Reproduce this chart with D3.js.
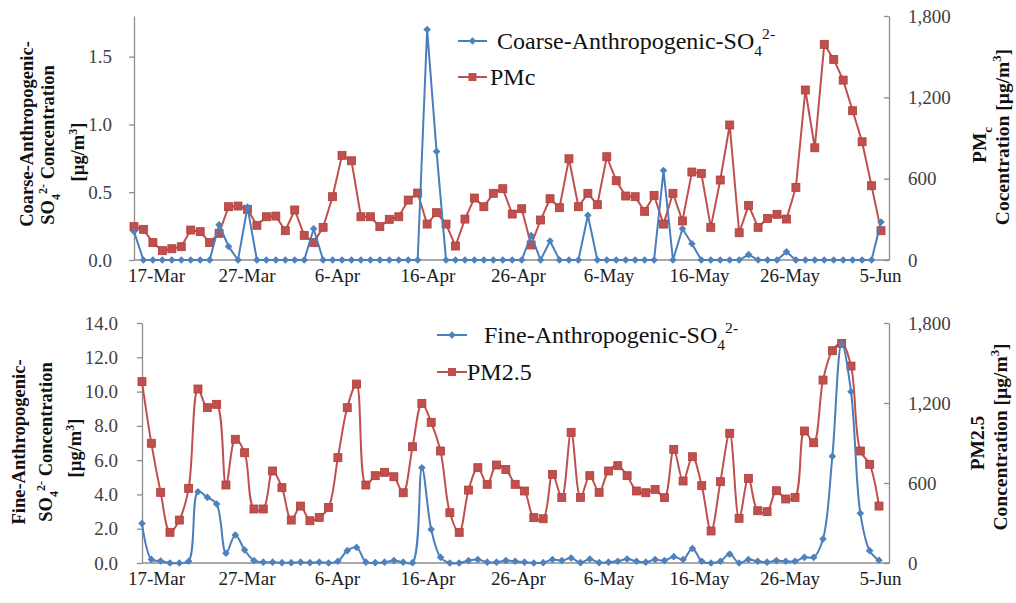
<!DOCTYPE html>
<html>
<head>
<meta charset="utf-8">
<script src="https://cdn.jsdelivr.net/npm/d3@7"></script>
<style>
  body { margin: 0; background: #fff; }
  svg text { font-family: "Liberation Serif", "Tinos", "Times New Roman", "DejaVu Serif", serif; }
</style>
</head>
<body>
<div id="chart"></div>
<script>
// date labels shown under each panel
const tickLabels = ["17-Mar", "27-Mar", "6-Apr", "16-Apr", "26-Apr", "6-May", "16-May", "26-May", "5-Jun"];

// top panel (daily values, 80 days)
const coarseSO4 = [0.21, 0, 0, 0, 0, 0, 0, 0, 0, 0.26,
  0.10, 0, 0.39, 0, 0, 0, 0, 0, 0, 0.23,
  0, 0, 0, 0, 0, 0, 0, 0, 0, 0,
  0, 1.70, 0.80, 0, 0, 0, 0, 0, 0, 0,
  0, 0, 0.18, 0, 0.14, 0, 0, 0, 0.33, 0,
  0, 0, 0, 0, 0, 0, 0.66, 0, 0.23, 0.12,
  0, 0, 0, 0, 0, 0.04, 0, 0, 0, 0.06,
  0, 0, 0, 0, 0, 0, 0, 0, 0, 0.28];
const pmc = [246, 226, 128, 69, 83, 98, 221, 209, 128, 197,
  393, 398, 374, 256, 319, 324, 216, 369, 182, 128,
  241, 467, 772, 732, 319, 319, 246, 300, 319, 442,
  494, 265, 349, 265, 103, 302, 457, 393, 492, 526,
  339, 378, 111, 295, 452, 386, 747, 393, 492, 408,
  762, 585, 472, 467, 359, 477, 265, 492, 288, 649,
  639, 241, 590, 996, 201, 403, 241, 307, 337, 302,
  536, 1254, 828, 1591, 1480, 1327, 1101, 872, 548, 216];

// bottom panel
const fineSO4 = [2.31, 0.21, 0.12, 0, 0, 0.10, 4.16, 3.83, 3.44, 0.57,
  1.63, 0.76, 0.14, 0.05, 0.05, 0.02, 0.02, 0.05, 0.02, 0.05,
  0, 0.10, 0.72, 0.91, 0.05, 0.02, 0.05, 0.14, 0.05, 0.02,
  5.56, 1.96, 0.33, 0, 0, 0.14, 0.20, 0.05, 0.05, 0.14,
  0.10, 0.05, 0, 0.02, 0.20, 0.14, 0.29, 0.02, 0.23, 0.02,
  0.05, 0.10, 0.23, 0.10, 0.05, 0.20, 0.14, 0.37, 0.20, 0.85,
  0.10, 0, 0.10, 0.52, 0, 0.20, 0.10, 0.05, 0.14, 0.10,
  0.10, 0.33, 0.33, 1.40, 6.22, 12.8, 9.99, 2.90, 0.72, 0.16];
const pm25 = [1360, 898, 530, 230, 322, 560, 1305, 1165, 1190, 585,
  928, 827, 405, 405, 690, 565, 322, 427, 317, 342,
  417, 790, 1165, 1342, 585, 655, 680, 647, 527, 872,
  1197, 1055, 840, 377, 230, 547, 715, 590, 735, 702,
  590, 540, 340, 332, 665, 492, 980, 492, 655, 530,
  690, 730, 655, 540, 527, 552, 490, 852, 615, 797,
  580, 240, 610, 973, 335, 635, 392, 385, 542, 480,
  492, 990, 902, 1372, 1592, 1647, 1477, 840, 740, 427];

const pmTicks = [0, 600, 1200, 1800];

const BLUE = "#4A7EBB", RED = "#C0504D", AXIS = "#8C8C8C", TICKTXT = "#404040";
const FONT = '"Liberation Serif", "Tinos", "Times New Roman", "DejaVu Serif", serif';

const svg = d3.select("#chart").append("svg")
  .attr("width", 1016)
  .attr("height", 603)
  .attr("font-family", FONT);

// writes a text made of parts, some of them sub- or superscript
function richText(sel, parts, size) {
  let shift = 0;
  parts.forEach(p => {
    let target = 0;
    if (p.sub) target = size * 0.3;
    if (p.sup) target = -size * 0.4;
    sel.append("tspan")
      .attr("dy", target - shift)
      .style("font-size", (p.sub || p.sup) ? size * 0.65 + "px" : size + "px")
      .text(p.t);
    shift = target;
  });
}

function drawPanel(p) {
  const g = svg.append("g");

  const x = d3.scaleLinear().domain([0, p.so4.length - 1]).range([p.firstX, p.lastX]);
  const yL = d3.scaleLinear().domain([0, p.so4Max]).range([p.bottom, p.top]);
  const yR = d3.scaleLinear().domain([0, 1800]).range([p.bottom, p.top]);
  const xl = d3.scalePoint().domain(tickLabels).range([156, 880]);

  // left axis
  const la = g.append("g").attr("transform", `translate(${p.left},0)`)
    .call(d3.axisLeft(yL).tickValues(p.so4Ticks).tickFormat(d3.format(".1f"))
      .tickSizeInner(5).tickSizeOuter(0).tickPadding(p.leftPad));
  // right axis
  const ra = g.append("g").attr("transform", `translate(${p.right},0)`)
    .call(d3.axisRight(yR).tickValues(pmTicks).tickFormat(d3.format(","))
      .tickSizeInner(-5).tickSizeOuter(0).tickPadding(19));
  [la, ra].forEach(a => {
    a.attr("font-family", FONT);
    a.select(".domain").attr("stroke", AXIS).attr("stroke-width", 1.3);
    a.selectAll(".tick line").attr("stroke", AXIS).attr("stroke-width", 1.3);
    a.selectAll(".tick text").attr("fill", TICKTXT).style("font-size", "19px");
  });

  // baseline
  g.append("line")
    .attr("x1", p.left).attr("x2", p.right)
    .attr("y1", yL(0)).attr("y2", yL(0))
    .attr("stroke", AXIS).attr("stroke-width", 1.3);

  // date labels
  const xa = g.append("g").attr("transform", `translate(0,${p.bottom})`)
    .call(d3.axisBottom(xl).tickSize(0).tickPadding(9));
  xa.attr("font-family", FONT);
  xa.select(".domain").remove();
  xa.selectAll(".tick text").attr("fill", "#202020").style("font-size", "19px");

  // series
  const lineL = d3.line().x((d, i) => x(i)).y(d => yL(d)).curve(p.curve);
  const lineR = d3.line().x((d, i) => x(i)).y(d => yR(d)).curve(p.curve);

  g.append("path").datum(p.pm)
    .attr("d", lineR).attr("fill", "none")
    .attr("stroke", RED).attr("stroke-width", 2);
  g.append("g").selectAll("rect").data(p.pm).join("rect")
    .attr("x", (d, i) => x(i) - 4).attr("y", d => yR(d) - 4)
    .attr("width", 8).attr("height", 8)
    .attr("fill", RED).attr("stroke", "#B03C39").attr("stroke-width", 0.8);

  g.append("path").datum(p.so4)
    .attr("d", lineL).attr("fill", "none")
    .attr("stroke", BLUE).attr("stroke-width", 2);
  g.append("g").selectAll("path").data(p.so4).join("path")
    .attr("transform", (d, i) => `translate(${x(i)},${yL(d)})`)
    .attr("d", "M0,-3.8L3.8,0L0,3.8L-3.8,0Z")
    .attr("fill", "#4F81BD");

  // legend
  const lg = g.append("g");
  [[p.leg1, BLUE], [p.leg2, RED]].forEach(([l, c], k) => {
    lg.append("line")
      .attr("x1", l.x1).attr("x2", l.x2).attr("y1", l.y).attr("y2", l.y)
      .attr("stroke", c).attr("stroke-width", 2);
    const mx = (l.x1 + l.x2) / 2;
    if (k === 0) {
      lg.append("path").attr("transform", `translate(${mx},${l.y})`)
        .attr("d", "M0,-3.8L3.8,0L0,3.8L-3.8,0Z").attr("fill", "#4F81BD");
    } else {
      lg.append("rect").attr("x", mx - 4).attr("y", l.y - 4)
        .attr("width", 8).attr("height", 8).attr("fill", RED);
    }
    const t = lg.append("text").attr("x", l.tx).attr("y", l.y + 8).attr("fill", "#111");
    richText(t, l.parts, 24);
  });

  // axis titles, rotated
  p.titles.forEach(tt => {
    const t = g.append("text")
      .attr("transform", `translate(${tt.x},${tt.y}) rotate(-90)`)
      .attr("text-anchor", "middle")
      .attr("font-weight", "bold")
      .attr("fill", "#111");
    richText(t, tt.parts, tt.size || 18.5);
  });
}

const so4Title = [{ t: "SO" }, { t: "4", sub: true }, { t: "2-", sup: true }, { t: " Concentration" }];
const unitTitle = [{ t: "[µg/m" }, { t: "3", sup: true }, { t: "]" }];

drawPanel({
  left: 134, right: 889, top: 16, bottom: 260,
  firstX: 134, lastX: 881,
  so4: coarseSO4, pm: pmc,
  so4Max: 1.8, so4Ticks: [0, 0.5, 1.0, 1.5], leftPad: 17,
  curve: d3.curveLinear,
  leg1: { x1: 458, x2: 487, y: 41, tx: 497,
    parts: [{ t: "Coarse-Anthropogenic-SO" }, { t: "4", sub: true }, { t: "2-", sup: true }] },
  leg2: { x1: 458, x2: 487, y: 77, tx: 490, parts: [{ t: "PMc" }] },
  titles: [
    { x: 33, y: 134, parts: [{ t: "Coarse-Anthropogenic-" }] },
    { x: 54, y: 145, parts: so4Title },
    { x: 84, y: 152, parts: unitTitle },
    { x: 986, y: 145, size: 19.5, parts: [{ t: "PM" }, { t: "c", sub: true }] },
    { x: 1009, y: 137, size: 19.5, parts: [{ t: "Cocentration " }].concat(unitTitle) }
  ]
});

drawPanel({
  left: 142, right: 889, top: 323, bottom: 563,
  firstX: 142, lastX: 879,
  so4: fineSO4, pm: pm25,
  so4Max: 14, so4Ticks: d3.range(0, 15, 2), leftPad: 19,
  curve: d3.curveCatmullRom.alpha(0.5),
  leg1: { x1: 437, x2: 467, y: 335, tx: 484,
    parts: [{ t: " Fine-Anthropogenic-SO" }, { t: "4", sub: true }, { t: "2-", sup: true }] },
  leg2: { x1: 437, x2: 467, y: 372, tx: 467, parts: [{ t: "PM2.5" }] },
  titles: [
    { x: 25, y: 442, parts: [{ t: "Fine-Anthropogenic-" }] },
    { x: 52, y: 442, parts: so4Title },
    { x: 81, y: 448, parts: unitTitle },
    { x: 984, y: 443, size: 19.5, parts: [{ t: "PM2.5" }] },
    { x: 1007, y: 437, size: 19.5, parts: [{ t: "Concentration " }].concat(unitTitle) }
  ]
});
</script>
</body>
</html>
